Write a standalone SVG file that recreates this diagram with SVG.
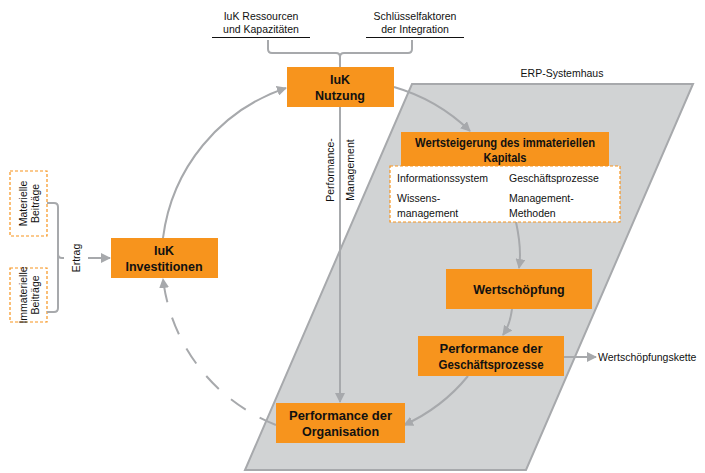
<svg xmlns="http://www.w3.org/2000/svg" width="705" height="473" viewBox="0 0 705 473">
<style>
.box{fill:#F7941D}
.dbox{fill:#fff;stroke:#F7941D;stroke-width:1.2;stroke-dasharray:3 2}
.b{font-family:"Liberation Sans",Arial,sans-serif;font-weight:bold;font-size:12.5px;fill:#111;text-anchor:middle}
.t{font-family:"Liberation Sans",Arial,sans-serif;font-size:10.5px;fill:#111}
.c{text-anchor:middle}
.ln{fill:none;stroke:#A7A9AC;stroke-width:2}
.arr{fill:none;stroke:#A7A9AC;stroke-width:2;marker-end:url(#ah)}
.blk{fill:none;stroke:#111;stroke-width:1.2}
</style>
<defs>
<marker id="ah" viewBox="0 0 10 10" refX="9" refY="5" markerWidth="5" markerHeight="5" orient="auto" markerUnits="strokeWidth">
<path d="M0,0 L10,5 L0,10 z" fill="#A7A9AC"/>
</marker>
</defs>
<rect width="705" height="473" fill="#fff"/>

<g id="erp">
<polygon points="412,84 693,84 526,470 245,470" fill="#D1D3D4" stroke="#A7A9AC" stroke-width="2"/>
<text class="t c" x="562" y="77">ERP-Systemhaus</text>
</g>

<g id="top-labels">
<text class="t c" x="261" y="20">IuK Ressourcen</text>
<text class="t c" x="261" y="33">und Kapazitäten</text>
<line class="blk" x1="212" y1="37.5" x2="310" y2="37.5"/>
<text class="t c" x="415" y="20">Schlüsselfaktoren</text>
<text class="t c" x="415" y="33">der Integration</text>
<line class="blk" x1="366" y1="37.5" x2="464" y2="37.5"/>
</g>

<g id="left-inputs">
<rect class="dbox" x="10" y="171" width="37" height="65"/>
<text class="t c" transform="translate(27,203.5) rotate(-90)">Materielle</text>
<text class="t c" transform="translate(39,203.5) rotate(-90)">Beiträge</text>
<rect class="dbox" x="10" y="268" width="37" height="54"/>
<text class="t c" transform="translate(27,295) rotate(-90)">Immaterielle</text>
<text class="t c" transform="translate(39,295) rotate(-90)">Beiträge</text>
<text class="t c" transform="translate(80,258) rotate(-90)">Ertrag</text>
</g>

<g id="connectors">
<path class="ln" d="M268,40 V49 Q268,53 272,53 H336 Q340,53 340,57 V67 M340,57 Q340,53 344,53 H408 Q412,53 412,49 V40"/>
<path class="ln" d="M47,203 H54 Q58,203 58,207 V254 Q58,258 62,258 H64 M58,254 V308 Q58,312 54,312 H47"/>
<path class="arr" d="M88,258 H110"/>
<path class="arr" d="M163,238 A182,182 0 0 1 286,88"/>
<path class="arr" d="M394,87 A182,182 0 0 1 470,131"/>
<path class="arr" d="M340,107 V402"/>
<path class="arr" d="M516,222 Q522,250 519,268"/>
<path class="arr" d="M512,309 Q510,325 503,335"/>
<path class="arr" d="M468,376 A175,175 0 0 1 404,425"/>
<path class="arr" d="M564,357 H596"/>
<path class="arr" d="M276,425 A180,180 0 0 1 163,279" stroke-dasharray="18 16"/>
<text class="t c" transform="translate(334,170) rotate(-90)">Performance-</text>
<text class="t c" transform="translate(354,170) rotate(-90)">Management</text>
<text class="t" x="598" y="361">Wertschöpfungskette</text>
</g>

<g id="iuk-nutzung">
<rect class="box" x="287" y="67" width="107" height="40"/>
<text class="b" x="340" y="84">IuK</text>
<text class="b" x="340" y="100">Nutzung</text>
</g>

<g id="iuk-investitionen">
<rect class="box" x="111" y="238" width="107" height="40"/>
<text class="b" x="164" y="255">IuK</text>
<text class="b" x="164" y="271">Investitionen</text>
</g>

<g id="wertsteigerung">
<rect class="box" x="401" y="132" width="208" height="35"/>
<text class="b" x="505" y="147" textLength="180" lengthAdjust="spacingAndGlyphs">Wertsteigerung des immateriellen</text>
<text class="b" x="505" y="162" textLength="43" lengthAdjust="spacingAndGlyphs">Kapitals</text>
<rect class="dbox" x="390" y="166" width="230" height="56"/>
<text class="t" x="397" y="182">Informationssystem</text>
<text class="t" x="509" y="182">Geschäftsprozesse</text>
<text class="t" x="397" y="202">Wissens-</text>
<text class="t" x="397" y="217">management</text>
<text class="t" x="509" y="202">Management-</text>
<text class="t" x="509" y="217">Methoden</text>
</g>

<g id="wertschoepfung">
<rect class="box" x="446" y="269" width="146" height="40"/>
<text class="b" x="519" y="294">Wertschöpfung</text>
</g>

<g id="performance-gp">
<rect class="box" x="418" y="336" width="146" height="40"/>
<text class="b" x="491" y="353" textLength="103" lengthAdjust="spacingAndGlyphs">Performance der</text>
<text class="b" x="491" y="369" textLength="105" lengthAdjust="spacingAndGlyphs">Geschäftsprozesse</text>
</g>

<g id="performance-org">
<rect class="box" x="276" y="403" width="129" height="40"/>
<text class="b" x="340.5" y="420" textLength="103" lengthAdjust="spacingAndGlyphs">Performance der</text>
<text class="b" x="340.5" y="436">Organisation</text>
</g>
</svg>
